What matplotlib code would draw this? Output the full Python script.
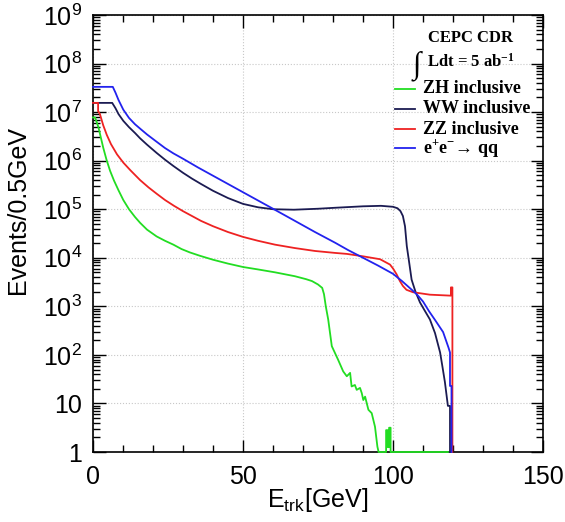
import numpy as np
import matplotlib
matplotlib.use('Agg')
import matplotlib.pyplot as plt
from matplotlib.ticker import FixedLocator, MultipleLocator, NullFormatter

plt.rcParams['font.family'] = ['Liberation Sans', 'DejaVu Sans']
plt.rcParams['mathtext.default'] = 'regular'

# track energy [GeV] and log10(events / 0.5 GeV)
zh_x = [0, 0.7, 1.8, 2.6, 3.4, 4.5, 5.7, 7.0, 8.5, 10.1, 12.0, 14.0, 15.7, 18.0, 21.2, 24.0,
        26.8, 29.5, 32.3, 35.7, 40.0, 45.0, 50.0, 55.0, 60.7, 67.3, 71.0, 73.0, 75.0, 76.4,
        77.0, 77.6, 78.4, 79.6, 81.7, 83.4, 84.6, 85.7, 86.2, 87.3, 87.9, 89.0, 89.6, 90.1,
        90.7, 91.8, 92.9, 94.0, 94.8, 95.2, 97.7, 97.7, 98.2, 98.2, 98.7, 98.7, 99.2, 99.2, 118.3]
zh_log = [6.89, 6.89, 6.69, 6.48, 6.27, 6.02, 5.79, 5.59, 5.39, 5.19, 5.00, 4.84, 4.72, 4.58, 4.44, 4.35,
          4.27, 4.18, 4.11, 4.04, 3.96, 3.88, 3.81, 3.76, 3.70, 3.62, 3.56, 3.52, 3.45, 3.38,
          3.25, 3.00, 2.73, 2.18, 1.90, 1.66, 1.56, 1.63, 1.35, 1.38, 1.28, 1.32, 1.21, 1.07,
          1.14, 0.87, 0.80, 0.52, 0.11, 0, 0, 0.45, 0.45, 0.1, 0.1, 0.5, 0.5, 0, 0]

ww_x = [0, 6.4, 7.5, 8.5, 10.1, 12.0, 14.0, 15.7, 18.0, 21.2, 24.0, 26.8, 30.0, 33.0, 36.0, 40.0,
        45.0, 50.0, 55.0, 60.0, 67.0, 75.0, 80.7, 90.0, 96.0, 100.0, 101.5, 102.5, 103.3, 104.0,
        104.6, 105.4, 106.2, 107.5, 109.0, 110.5, 112.3, 114.0, 115.7, 116.5, 117.3, 118.3, 119.0, 119.0]
ww_log = [7.19, 7.19, 7.08, 6.96, 6.82, 6.69, 6.57, 6.46, 6.33, 6.16, 6.02, 5.89, 5.75, 5.63, 5.52, 5.38,
          5.23, 5.11, 5.04, 5.00, 4.99, 5.01, 5.03, 5.06, 5.07, 5.05, 5.02, 4.96, 4.86, 4.65,
          4.24, 3.90, 3.55, 3.30, 3.08, 2.92, 2.73, 2.45, 2.05, 1.75, 1.44, 0.95, 0.95, 0]

zz_x = [0, 1.7, 1.7, 2.3, 3.4, 4.6, 6.0, 8.0, 10.1, 12.5, 15.7, 18.5, 21.2, 24.0, 27.0, 30.0,
        33.0, 36.0, 40.0, 45.0, 50.0, 55.0, 60.7, 67.3, 74.0, 80.7, 84.6, 90.0, 95.7, 99.0,
        100.0, 101.2, 102.3, 103.3, 104.5, 106.7, 112.3, 119.3, 119.3, 119.8, 119.8]
zz_log = [7.19, 7.19, 7.02, 6.96, 6.73, 6.53, 6.34, 6.13, 5.96, 5.80, 5.60, 5.45, 5.32, 5.19, 5.07, 4.96,
          4.86, 4.76, 4.65, 4.53, 4.43, 4.35, 4.27, 4.20, 4.14, 4.10, 4.08, 4.03, 3.97, 3.86,
          3.78, 3.66, 3.52, 3.42, 3.34, 3.29, 3.24, 3.22, 3.39, 3.39, 0]

qq_x = [0, 6.6, 7.5, 8.5, 10.1, 12.0, 14.0, 15.7, 18.0, 21.2, 24.0, 26.8, 30.0, 35.0, 40.0, 45.0,
        50.0, 55.0, 60.0, 67.3, 74.0, 80.7, 85.0, 90.0, 95.0, 100.0, 103.0, 105.0, 107.9,
        110.0, 112.0, 114.0, 116.7, 118.5, 119.0, 119.0, 119.5, 119.5]
qq_log = [7.52, 7.52, 7.40, 7.25, 7.05, 6.88, 6.75, 6.66, 6.54, 6.39, 6.26, 6.15, 6.04, 5.86, 5.69, 5.52,
          5.35, 5.18, 5.01, 4.76, 4.53, 4.31, 4.16, 4.00, 3.84, 3.67, 3.52, 3.41, 3.25,
          3.10, 2.90, 2.72, 2.47, 2.15, 2.05, 1.36, 1.36, 0]

series = [
    ('ZH inclusive', zh_x, zh_log, '#22dd22'),
    ('WW inclusive', ww_x, ww_log, '#1b1b52'),
    ('ZZ inclusive', zz_x, zz_log, '#ee2222'),
    ('e$^{+}$e$^{-}$\u2192 qq', qq_x, qq_log, '#2222ee'),
]

fig = plt.figure(figsize=(5.65, 5.22), dpi=100)
ax = fig.add_axes([93 / 565, 70 / 522, 450 / 565, 437 / 522])

for name, x, lg, col in series:
    ax.plot(x, 10 ** np.array(lg), color=col, lw=1.3, clip_on=False, zorder=3)

ax.set_yscale('log')
ax.set_xlim(0, 150)
ax.set_ylim(1, 1e9)

ax.xaxis.set_major_locator(MultipleLocator(50))
ax.xaxis.set_minor_locator(MultipleLocator(10))
ydec = [10.0 ** k for k in range(10)]
ylabels = ['1', '10'] + ['$10^{%d}$' % k for k in range(2, 10)]
ax.yaxis.set_major_locator(FixedLocator(ydec))
ax.set_yticklabels(ylabels)
ax.yaxis.set_minor_locator(FixedLocator([m * 10.0 ** k for k in range(9) for m in range(2, 10)]))
ax.yaxis.set_minor_formatter(NullFormatter())

ax.tick_params(which='both', direction='in', top=True, right=True, labelsize=18, width=1)
ax.tick_params(which='major', length=9)
ax.tick_params(which='minor', length=5)
ax.tick_params(axis='x', pad=9)
ax.tick_params(axis='y', pad=8)
for s in ax.spines.values():
    s.set_linewidth(1.2)

ax.grid(True, which='major', color='#c8c8c8', linestyle=':', lw=0.8)
ax.set_axisbelow(True)

ax.set_ylabel('Events/0.5GeV', fontsize=18)
ax.yaxis.set_label_coords(-0.14, 0.553)
ax.set_xlabel('E$_{trk}$[GeV]', fontsize=18)
ax.xaxis.set_label_coords(0.5, -0.078)

# legend drawn by hand, in axes fraction
serif = ['Liberation Serif', 'DejaVu Serif']
ax.text(0.84, 0.947, 'CEPC CDR', transform=ax.transAxes, ha='center', va='center',
        fontsize=12, fontweight='bold', family=serif)
ax.text(0.72, 0.885, '\u222b', transform=ax.transAxes, ha='center', va='center',
        fontsize=22, family=serif)
ax.text(0.742, 0.892, 'Ldt = 5 ab$^{-1}$', transform=ax.transAxes, ha='left', va='center',
        fontsize=12, fontweight='bold', family=serif)
rows = [0.831, 0.785, 0.739, 0.695]
for (name, x, lg, col), fy in zip(series, rows):
    ax.plot([0.671, 0.716], [fy, fy], color=col, lw=1.3, transform=ax.transAxes, clip_on=False)
    ax.text(0.733, fy, name, transform=ax.transAxes, ha='left', va='center',
            fontsize=13, fontweight='bold', family=serif)

fig.savefig('out.png', dpi=100)
